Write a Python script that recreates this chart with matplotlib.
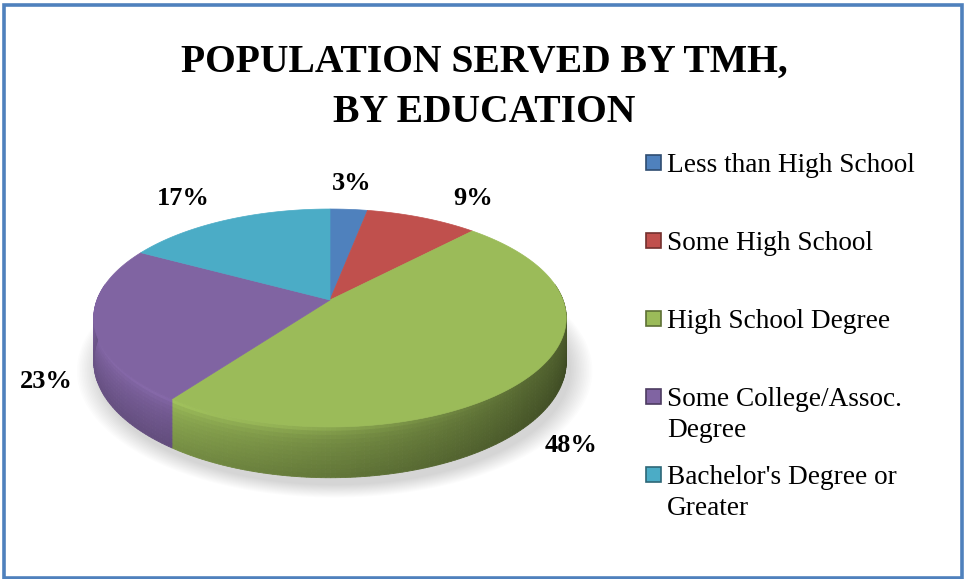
import numpy as np
import matplotlib.pyplot as plt
from matplotlib.patches import Polygon, Rectangle
from matplotlib.colors import to_rgb

# -----------------------
# Data
# -----------------------
categories = ['Less than High School', 'Some High School', 'High School Degree',
              'Some College/Assoc.\nDegree', "Bachelor's Degree or\nGreater"]
shares = [3, 9, 48, 23, 17]
colors = ['#4F81BD', '#C0504D', '#9BBB59', '#8064A2', '#4BACC6']
title_lines = ['POPULATION SERVED BY TMH,', 'BY EDUCATION']

# label nudges (pixels) from the slice rim
label_offsets = [(3, 26), (51, 19), (40, -23), (-48, -14), (-43, 22)]

W, H = 964, 579
fig = plt.figure(figsize=(W / 100, H / 100), dpi=100)
fig.patch.set_facecolor('white')

# -----------------------
# 3D pie geometry
# -----------------------
cx, cy, rx, ry = 330, 300, 233, 106   # centre and radii in pixels
k = 0.165      # perspective: near rim drawn larger than far rim
depth = 0.40   # wall height in units of ry

ax = fig.add_axes([0, 0, 1, 1])
ax.set_xlim(-cx / rx, (W - cx) / rx)
ax.set_ylim((H - cy) / ry, -cy / ry)
ax.axis('off')


def proj(theta, r=1.0, z=0.0):
    s = 1.0 / (1 - k * np.sin(theta) * r)
    return r * np.cos(theta) * s, (r * np.sin(theta) + z) * s


frac = np.array(shares, dtype=float) / sum(shares)
edges = np.deg2rad(-90 + 360 * np.concatenate([[0], np.cumsum(frac)]))

# soft shadow under the disc
tt = np.linspace(0, 2 * np.pi, 200)
bx, by = proj(tt, 1.0, depth)
for i in range(14):
    g = 1 + 0.007 * i
    ax.add_patch(Polygon(np.c_[bx * g + 0.02, (by - depth) * g + depth + 0.07],
                         closed=True, fc='#808080', ec='none', alpha=0.025, zorder=1))

# wall lighting: bright towards front-left, dark towards the right
shade_ang = [0, 40, 90, 130, 180, 200]
shade_val = [0.40, 0.50, 0.70, 0.86, 0.92, 0.92]
zs = np.linspace(0, 1, 13)

for i in range(len(shares)):
    lo = max(edges[i], -0.15)
    hi = min(edges[i + 1], np.pi + 0.15)
    if hi <= lo:
        continue
    base = np.array(to_rgb(colors[i]))
    ts = np.linspace(lo, hi, max(2, int(np.degrees(hi - lo)) + 1))
    for a, b in zip(ts[:-1], ts[1:]):
        m = np.degrees((a + b) / 2)
        f = np.interp(m, shade_ang, shade_val)
        glow = 0.45 * max(0.0, np.cos(np.radians(m - 115))) ** 3
        for z0, z1 in zip(zs[:-1], zs[1:]):
            zm = (z0 + z1) / 2
            c = np.clip(base * f * (1.12 - 0.22 * zm), 0, 1)
            w = glow * np.exp(-zm / 0.12)
            c = c + (np.clip(base * 1.25, 0, 1) - c) * w
            xa, ya = proj(a, z=depth * z0)
            xb, yb = proj(b, z=depth * z0)
            xa2, ya2 = proj(a, z=depth * z1)
            xb2, yb2 = proj(b, z=depth * z1)
            ax.add_patch(Polygon([(xa, ya), (xb, yb), (xb2, yb2), (xa2, ya2)],
                                 closed=True, fc=c, ec=c, lw=0.6, zorder=2))

# top faces
for i in range(len(shares)):
    ts = np.linspace(edges[i], edges[i + 1], max(2, int(360 * frac[i]) + 2))
    px, py = proj(ts)
    pts = np.vstack([[0, 0], np.c_[px, py]])
    ax.add_patch(Polygon(pts, closed=True, fc=colors[i], ec=colors[i], lw=0.5, zorder=4))

# percentage labels
for i in range(len(shares)):
    mid = (edges[i] + edges[i + 1]) / 2
    z = depth if np.sin(mid) > 0.15 else 0.0
    x0, y0 = proj(mid, 1.0, z)
    ax.annotate(f'{shares[i]}%', (x0, y0), xytext=label_offsets[i],
                textcoords='offset pixels', ha='center', va='center',
                fontsize=19, fontweight='bold', family='Liberation Serif',
                color='black', zorder=6)

# -----------------------
# Title, legend, frame
# -----------------------
lay = fig.add_axes([0, 0, 1, 1])
lay.set_xlim(0, W)
lay.set_ylim(H, 0)
lay.axis('off')
lay.patch.set_alpha(0)

for j, line in enumerate(title_lines):
    lay.text(484, 72 + 50 * j, line, ha='center', va='baseline',
             fontsize=28.5, fontweight='bold', family='Liberation Serif')

for i, (name, col) in enumerate(zip(categories, colors)):
    base_y = 172 + 78 * i
    edge = np.clip(np.array(to_rgb(col)) * 0.6, 0, 1)
    lay.add_patch(Rectangle((646, base_y - 17), 15, 15, fc=col, ec=edge, lw=1.2))
    for j, part in enumerate(name.split('\n')):
        lay.text(667, base_y + 31 * j, part, ha='left', va='baseline',
                 fontsize=19.6, family='Liberation Serif', color='black')

lay.add_patch(Rectangle((3.5, 4.5), 958, 573, fill=False, ec='#4F81BD', lw=2.6,
                        clip_on=False))

fig.savefig('out.png', dpi=100)
